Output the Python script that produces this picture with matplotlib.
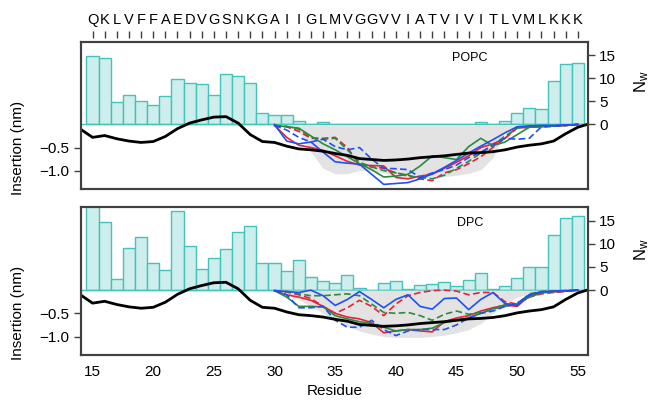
import numpy as np
import matplotlib
matplotlib.use("Agg")
import matplotlib.pyplot as plt

plt.rcParams['font.family'] = 'Liberation Sans'
plt.rcParams['mathtext.fontset'] = 'custom'
plt.rcParams['mathtext.rm'] = 'Liberation Sans'
plt.rcParams['mathtext.it'] = 'Liberation Sans'
plt.rcParams['mathtext.default'] = 'regular'

# residue numbers and one-letter sequence
residues = list(range(15, 56))
sequence = "QKLVFFAEDVGSNKGAIIGLMVGGVVIATVIVITLVMLKKK"

# water count per residue
popc_nw = [14.8, 14.4, 4.9, 6.4, 5.1, 4.3, 6.1, 9.8, 9.0, 8.8,
           6.4, 10.9, 10.5, 9.1, 2.5, 2.1, 2.0, 0.7, 0, 0.6,
           0, 0, 0, 0, 0, 0, 0, 0, 0, 0,
           0, 0, 0.6, 0, 0.7, 2.5, 3.6, 3.4, 9.4, 13.2, 13.4]
dpc_nw = [19.0, 14.8, 2.4, 9.0, 11.5, 5.9, 4.4, 17.1, 9.6, 4.6,
          6.9, 8.9, 12.5, 13.9, 5.8, 5.9, 4.1, 6.4, 2.9, 2.0,
          1.6, 3.2, 0.4, 0, 1.6, 2.0, 0.2, 1.1, 1.4, 1.7,
          0.9, 2.2, 3.7, 0.2, 0.8, 2.6, 4.9, 5.1, 11.9, 15.6, 16.0]

# reference insertion profile (black)
depth_res = list(range(14, 57))
depth_nm = [-0.10, -0.28, -0.24, -0.31, -0.36, -0.39, -0.37, -0.26, -0.09, 0.03,
            0.10, 0.16, 0.17, 0.03, -0.22, -0.37, -0.39, -0.47, -0.53, -0.55,
            -0.58, -0.63, -0.67, -0.74, -0.76, -0.78, -0.77, -0.75, -0.72, -0.70,
            -0.68, -0.65, -0.62, -0.61, -0.59, -0.55, -0.49, -0.45, -0.42, -0.36,
            -0.20, -0.06, 0.02]

# insertion of the TM segment in the simulations
tm_res = list(range(30, 56))

popc_red = [-0.02, -0.28, -0.45, -0.50, -0.56, -0.68, -0.80, -0.88, -0.89, -0.90,
            -1.15, -1.18, -1.12, -1.08, -0.95, -0.82, -0.68, -0.50, -0.42, -0.30,
            -0.05, -0.05, -0.04, -0.03, -0.02, 0]
popc_red_d = [-0.02, -0.05, -0.15, -0.30, -0.30, -0.28, -0.50, -0.87, -0.92, -0.95,
              -1.05, -1.10, -1.18, -1.22, -1.05, -0.98, -0.85, -0.70, -0.50, -0.30,
              -0.08, -0.06, -0.05, -0.03, -0.02, 0]
popc_green = [-0.02, -0.05, -0.08, -0.25, -0.42, -0.55, -0.70, -0.85, -0.98, -1.14,
              -1.12, -1.08, -0.90, -0.68, -0.72, -0.76, -0.48, -0.30, -0.46, -0.38,
              -0.22, -0.06, -0.04, -0.03, -0.02, 0]
popc_green_d = [-0.02, -0.04, -0.10, -0.28, -0.32, -0.30, -0.55, -0.82, -0.92, -1.00,
                -1.05, -1.12, -1.15, -1.18, -1.10, -0.95, -0.80, -0.62, -0.45, -0.25,
                -0.08, -0.06, -0.05, -0.04, -0.02, 0]
popc_blue = [0, -0.36, -0.42, -0.38, -0.60, -0.81, -0.84, -0.86, -1.08, -1.30,
             -1.28, -1.26, -1.18, -1.07, -0.93, -0.78, -0.62, -0.47, -0.33, -0.18,
             -0.05, -0.03, -0.02, -0.02, -0.01, 0]
popc_blue_d = [-0.02, -0.12, -0.28, -0.38, -0.32, -0.48, -0.55, -0.50, -0.75, -0.95,
               -0.96, -0.98, -1.15, -1.05, -0.98, -0.88, -0.72, -0.60, -0.45, -0.30,
               -0.32, -0.30, -0.05, -0.04, -0.02, 0]
popc_band = [-0.02, -0.04, -0.15, -0.60, -0.95, -1.07, -1.07, -1.00, -1.00, -1.05,
             -1.12, -1.15, -1.15, -1.15, -1.13, -1.10, -1.06, -0.98, -0.72, -0.15,
             -0.05, -0.05, -0.04, -0.04, -0.03, -0.02]

dpc_red = [-0.01, -0.10, -0.15, -0.22, -0.35, -0.50, -0.58, -0.62, -0.70, -0.92,
           -0.88, -0.85, -0.88, -0.90, -0.68, -0.60, -0.55, -0.45, -0.38, -0.32,
           -0.35, -0.12, -0.05, -0.03, -0.02, 0]
dpc_red_d = [-0.01, -0.04, -0.10, -0.18, -0.35, -0.50, -0.38, -0.22, -0.35, -0.55,
             -0.30, -0.12, -0.05, -0.01, 0, -0.02, -0.10, -0.05, -0.05, -0.25,
             -0.30, -0.15, -0.08, -0.05, -0.03, 0]
dpc_green = [-0.01, -0.15, -0.35, -0.35, -0.36, -0.55, -0.62, -0.68, -0.72, -0.80,
             -0.88, -0.85, -0.85, -0.82, -0.70, -0.65, -0.60, -0.50, -0.40, -0.35,
             -0.30, -0.15, -0.06, -0.03, -0.02, 0]
dpc_green_d = [-0.01, -0.03, -0.08, -0.12, -0.12, -0.10, -0.08, -0.12, -0.30, -0.48,
               -0.50, -0.48, -0.55, -0.65, -0.52, -0.45, -0.52, -0.48, -0.42, -0.30,
               -0.30, -0.08, -0.03, -0.02, -0.01, 0]
dpc_blue = [-0.01, -0.03, -0.05, 0, -0.12, -0.33, -0.20, -0.03, -0.20, -0.38,
            -0.20, -0.10, -0.35, -0.41, -0.18, -0.17, -0.42, -0.20, -0.05, -0.29,
            -0.33, -0.10, -0.03, -0.02, -0.01, 0]
dpc_blue_d = [-0.01, -0.10, -0.38, -0.38, -0.35, -0.65, -0.80, -0.80, -0.65, -0.85,
              -0.98, -0.88, -0.85, -0.85, -0.85, -0.75, -0.60, -0.50, -0.45, -0.35,
              -0.28, -0.10, -0.04, -0.03, -0.02, 0]
dpc_band = [-0.03, -0.08, -0.20, -0.35, -0.50, -0.65, -0.78, -0.88, -0.95, -1.00,
            -1.02, -1.02, -1.02, -1.00, -0.97, -0.92, -0.85, -0.72, -0.50, -0.30,
            -0.15, -0.08, -0.05, -0.04, -0.03, -0.02]

RED = '#e8203c'
GREEN = '#2a8a3e'
BLUE = '#2050f0'
DASH = (0, (4, 2))
BAR_FACE = '#cdeeec'
BAR_EDGE = '#45c3ba'
FRAME = '#404040'


def draw_panel(ax, nw, traces, band, name, ylab_y, nlab_y):
	# water counts on the right axis
	ax2 = ax.twinx()
	ax2.bar(residues, nw, width=1.0, color=BAR_FACE, edgecolor=BAR_EDGE, linewidth=1.0)
	ax2.axhline(0, color=BAR_EDGE, lw=1.0)
	ax2.set_ylim(-14, 18)
	ax2.set_yticks([0, 5, 10, 15])
	ax2.tick_params(axis='y', direction='out', length=5, width=1, labelsize=11, colors=FRAME, labelcolor='black')
	ax2.set_ylabel(r'$N_w$', fontsize=12)
	ax2.yaxis.set_label_coords(1.088, nlab_y)

	# keep the insertion lines above the bars
	ax.set_zorder(ax2.get_zorder() + 1)
	ax.patch.set_visible(False)

	ax.fill_between(tm_res, band, 0, color='#e3e3e3', lw=0)
	for vals, col, ls in traces:
		ax.plot(tm_res, vals, color=col, ls=ls, lw=1.2)
	ax.plot(depth_res, depth_nm, color='black', lw=2.0)

	ax.set_xlim(14.05, 55.8)
	ax.set_ylim(-1.4, 1.8)
	ax.set_yticks([-0.5, -1.0])
	ax.set_yticklabels(['\u22120.5', '\u22121.0'])
	ax.tick_params(axis='y', direction='out', length=5, width=1, labelsize=11, colors=FRAME, labelcolor='black')
	ax.set_ylabel('Insertion (nm)', fontsize=11)
	ax.yaxis.set_label_coords(-0.11, ylab_y)
	ax.text(0.768, 0.89, name, transform=ax.transAxes, ha='center', va='center', fontsize=9)

	for a in (ax, ax2):
		for s in a.spines.values():
			s.set_color(FRAME)
			s.set_linewidth(1.5)


fig = plt.figure(figsize=(6.54, 4.03), dpi=100)
ax_top = fig.add_axes([0.1239, 0.531, 0.7745, 0.366])
ax_bot = fig.add_axes([0.1239, 0.119, 0.7745, 0.368])

draw_panel(ax_top, popc_nw,
	[(popc_red, RED, '-'), (popc_red_d, RED, DASH),
	 (popc_green, GREEN, '-'), (popc_green_d, GREEN, DASH),
	 (popc_blue, BLUE, '-'), (popc_blue_d, BLUE, DASH)],
	popc_band, 'POPC', 0.278, 0.725)
draw_panel(ax_bot, dpc_nw,
	[(dpc_red, RED, '-'), (dpc_red_d, RED, DASH),
	 (dpc_green, GREEN, '-'), (dpc_green_d, GREEN, DASH),
	 (dpc_blue, BLUE, '-'), (dpc_blue_d, BLUE, DASH)],
	dpc_band, 'DPC', 0.283, 0.708)

# top panel: sequence letters above, no bottom labels
ax_top.set_xticks([])
sec = ax_top.secondary_xaxis(1.023)
sec.set_xticks(residues)
sec.set_xticklabels(list(sequence))
sec.tick_params(length=5, width=1, pad=3, labelsize=10.5, colors=FRAME, labelcolor='black')
for s in sec.spines.values():
	s.set_visible(False)

# bottom panel: residue numbers
ax_bot.set_xticks(range(15, 56, 5))
ax_bot.tick_params(axis='x', length=0, pad=7, labelsize=11)
ax_bot.set_xlabel('Residue', fontsize=11)

fig.savefig('out.png', dpi=100)
